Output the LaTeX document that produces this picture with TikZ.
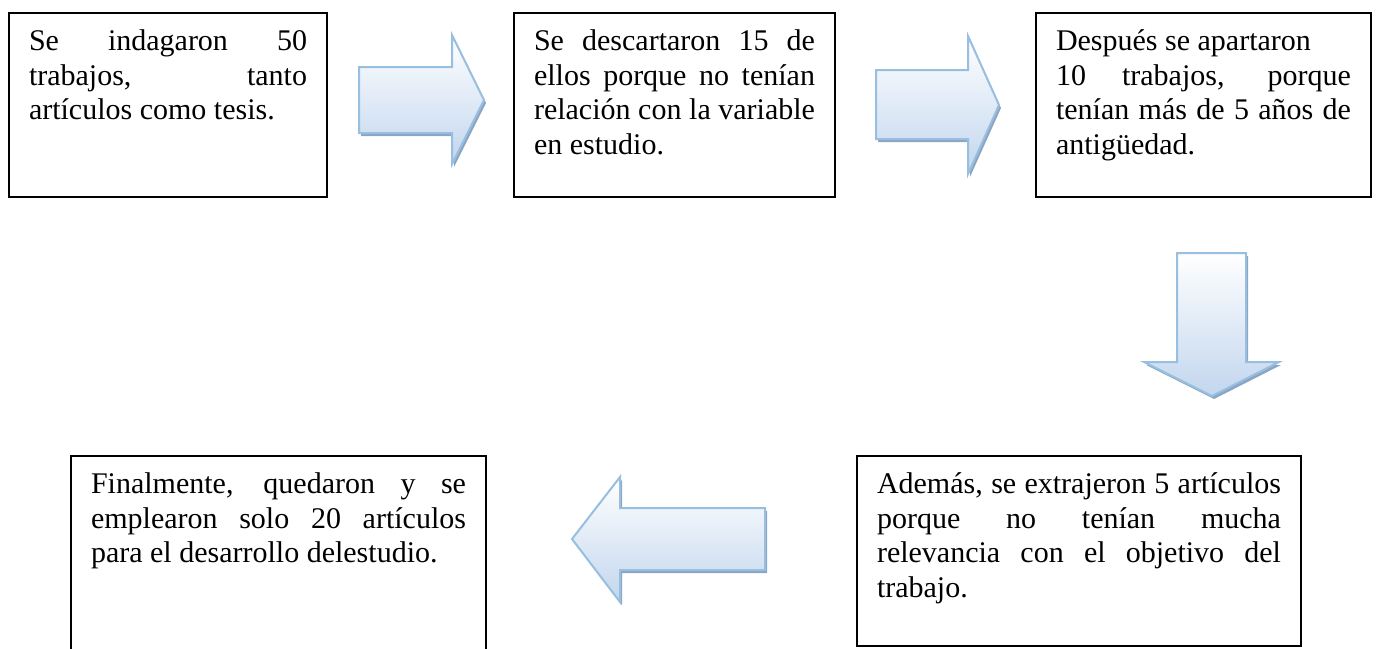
\documentclass[tikz,border=0pt]{standalone}
\usepackage{fontspec}
\setmainfont{Liberation Serif}
\usepackage{tikz}
\usetikzlibrary{
    shadows,
}
\definecolor{flechaborde}{RGB}{152,190,224}
\definecolor{flechafondo}{RGB}{194,214,238}
\definecolor{flechasombra}{RGB}{140,165,196}
\newcommand{\textocaja}[3]{\parbox[t][#2][t]{#1}{\tolerance=10000\hbadness=10000 #3}}

\begin{document}
\begin{tikzpicture}[
    x=0.5pt, y=-0.5pt,
    caja/.style={draw, line width=1pt, anchor=north west, inner xsep=10pt, inner ysep=8.5pt,
        font=\fontsize{15pt}{17.25pt}\selectfont},
    flecha/.style={draw=flechaborde, line width=1pt, top color=white, bottom color=flechafondo,
        drop shadow={shadow xshift=1pt, shadow yshift=-1.5pt, fill=flechasombra, opacity=1}},
    ]

    \useasboundingbox (0,0) rectangle (1379,648);

    \def\flechauno{(359,67) -- (452,67) -- (452,35) -- (484,100) -- (452,164) -- (452,133) -- (359,133) -- cycle}
    \def\flechados{(876,70) -- (968,70) -- (968,36) -- (999,105) -- (968,174) -- (968,139) -- (876,139) -- cycle}
    \def\flechatres{(1177,253) -- (1246,253) -- (1246,362) -- (1279,362) -- (1212,396) -- (1144,362) -- (1177,362) -- cycle}
    \def\flechacuatro{(765,508) -- (620,508) -- (620,477) -- (572,539) -- (620,602) -- (620,570) -- (765,570) -- cycle}

    % cajas de texto
    \node[caja] (indagados) at (8,12)
        {\textocaja{139pt}{75pt}{Se indagaron 50\linebreak trabajos, tanto\linebreak artículos como tesis.}};
    \node[caja] (descartados) at (513,12)
        {\textocaja{140.5pt}{75pt}{Se descartaron 15 de\linebreak ellos porque no tenían\linebreak relación con la variable\linebreak en estudio.}};
    \node[caja] (apartados) at (1035,12)
        {\textocaja{147.5pt}{75pt}{Después se apartaron\newline 10 trabajos, porque\linebreak tenían más de 5 años de\linebreak antigüedad.}};
    \node[caja] (extraidos) at (856,455)
        {\textocaja{202pt}{78pt}{Además, se extrajeron 5 artículos\linebreak porque no tenían mucha\linebreak relevancia con el objetivo del\linebreak trabajo.}};
    \node[caja] (empleados) at (70,455)
        {\textocaja{187.5pt}{85.5pt}{Finalmente, quedaron y se\linebreak emplearon solo 20 artículos\linebreak para el desarrollo delestudio.}};

    % flechas
    \path[flecha] \flechauno;
    \path[flecha] \flechados;
    \path[flecha] \flechatres;
    \path[flecha] \flechacuatro;

\end{tikzpicture}
\end{document}
